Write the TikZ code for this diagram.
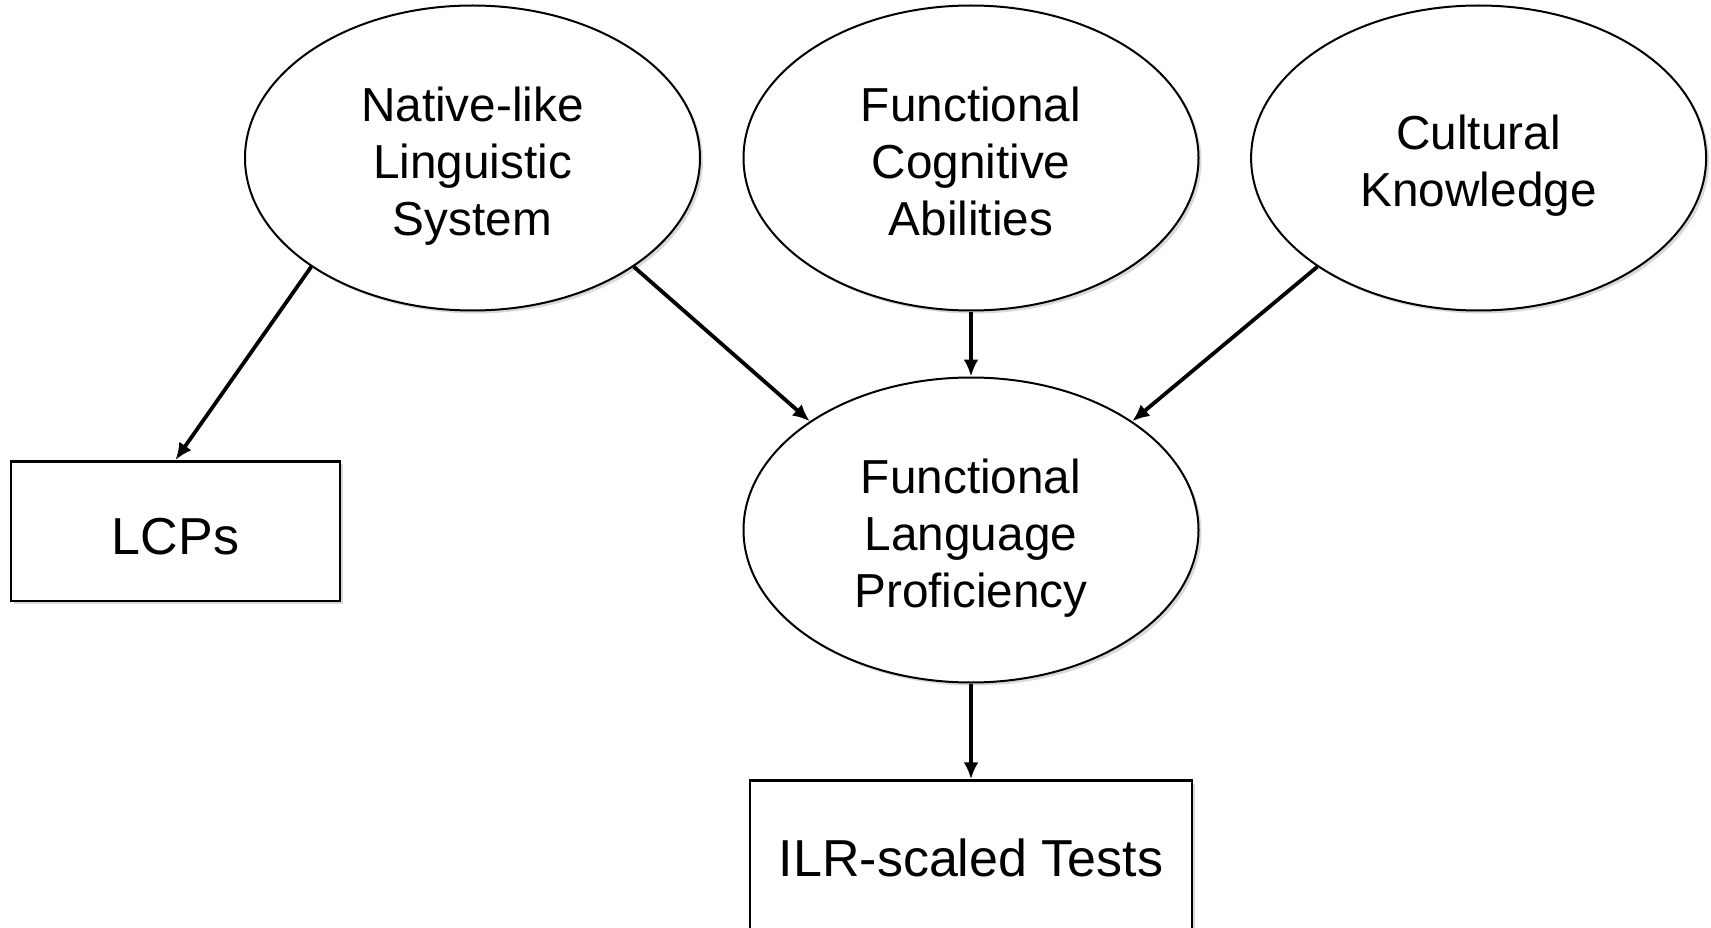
\documentclass[tikz,border=0pt]{standalone}
\usepackage{fontspec}
\setmainfont{Liberation Sans}
\usetikzlibrary{arrows.meta,shapes.geometric,shadows}

\begin{document}
\begin{tikzpicture}[x=1pt, y=-1pt, >=Latex,
  oval/.style={ellipse, draw, line width=2pt, fill=white, minimum width=455pt, minimum height=305pt, inner sep=0pt, align=center, font=\fontsize{47.7}{57}\selectfont, text height=#1, text depth=0pt, drop shadow={opacity=0.3, shadow xshift=3pt, shadow yshift=-3pt}},
  oval/.default=156pt,
  box/.style={rectangle, draw, line width=2.5pt, fill=white, inner sep=0pt, font=\fontsize{52}{62}\selectfont, drop shadow={opacity=0.3, shadow xshift=3pt, shadow yshift=-3pt}},
  link/.style={line width=3.8pt, -{Latex[length=17pt,width=15pt]}}]
\useasboundingbox (0,0) rectangle (1711,928);
% top row
\node[oval] (nls) at (472.5,158) {Native-like\\Linguistic\\System};
\node[oval] (fca) at (971,158) {Functional\\Cognitive\\Abilities};
\node[oval=98pt] (ck) at (1478.6,158) {Cultural\\Knowledge};
% middle
\node[oval=155pt] (flp) at (971,530) {Functional\\Language\\Proficiency};
\node[box, minimum width=329pt, minimum height=139.5pt, text height=46.5pt, text depth=0pt] (lcp) at (175.5,531) {LCPs};
% bottom
\node[box, minimum width=441.6pt, minimum height=159pt, text height=34pt, text depth=0.4pt] (ilr) at (971,860) {ILR-scaled Tests};
% arrows
\draw[link] (nls.214) -- (lcp.north);
\draw[link] (nls.-34) -- (flp.146);
\draw[link] (fca.south) -- (flp.north);
\draw[link] (ck.214) -- (flp.34);
\draw[link] (flp.south) -- (ilr.north);
\end{tikzpicture}
\end{document}
